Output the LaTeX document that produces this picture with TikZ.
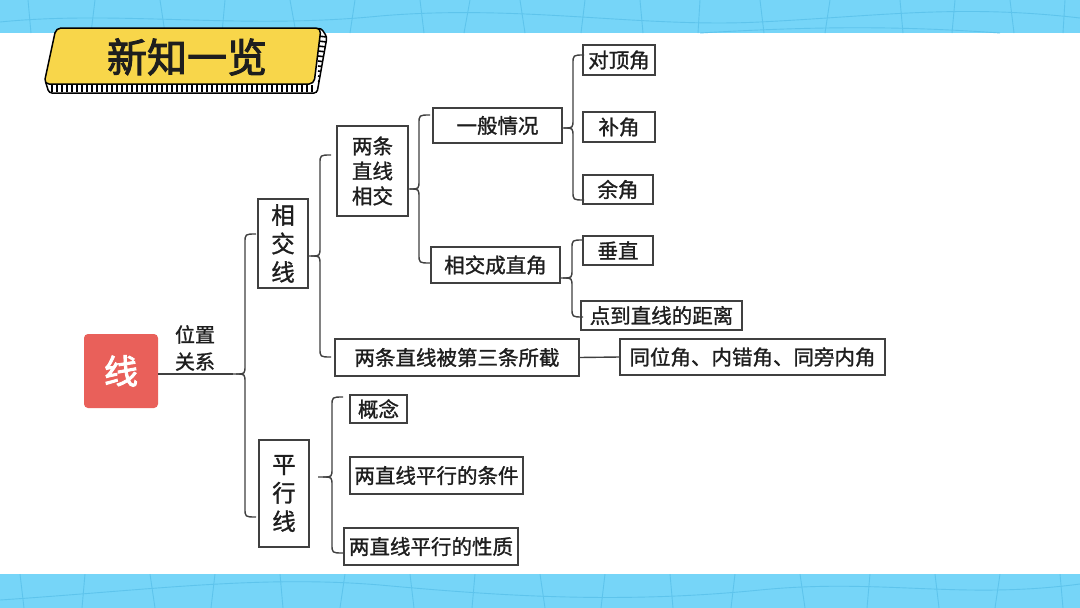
\documentclass[tikz,border=0pt]{standalone}
\usepackage{fontspec}
\newfontfamily\cjk{Noto Sans CJK SC}[FakeBold=1.2]
\newfontfamily\cjkb{Noto Sans CJK SC}[FakeBold=2.5]
\definecolor{band}{HTML}{76D5F8}
\definecolor{bandline}{HTML}{5EC4EC}
\definecolor{ttl}{HTML}{F8D64A}
\definecolor{redbox}{HTML}{E9605A}
\definecolor{ink}{HTML}{1E1E1E}
\tikzset{
  box/.style={draw=ink!85, line width=1.1pt, fill=white, inner sep=0pt, text=ink,
    font=\cjk\fontsize{20.5}{25}\selectfont, align=center},
  vbox/.style={box, font=\cjk\fontsize{23.5}{28.5}\selectfont},
  conn/.style={draw=ink!85, line width=1.4pt},
  grid/.style={draw=bandline, line width=0.9pt}
}
\newcommand\bx[7][box]{\node[#1, minimum width={#5-#3}, minimum height={#6-#4}] (#2) at ({(#3+#5)/2},{(#4+#6)/2}) {#7};}
% xb ytop ybot ytip (tipcoord) r
\newcommand\brk[6]{%
  \draw[conn] ({#1+#6+2},#2) .. controls (#1,#2) .. (#1,{#2+#6}) -- (#1,{#4-#6}) .. controls (#1,#4) .. ({#1-#6},#4) -- #5;
  \draw[conn] ({#1-#6},#4) .. controls (#1,#4) .. (#1,{#4+#6}) -- (#1,{#3-#6}) .. controls (#1,#3) .. ({#1+#6+2},#3);}
\begin{document}
\begin{tikzpicture}[x=1pt,y=-1pt]
\useasboundingbox (0,0) rectangle (1080,608);
\fill[white] (0,0) rectangle (1080,608);
% top band
\fill[band] (0,0) rectangle (1080,33);
\begin{scope}
\clip (0,0) rectangle (1080,33);
\foreach \x/\d in {28/3,95/-4,160/5,225/-3,290/6,355/-5,420/4,470/-6,520/5,585/-4,640/3,700/-2,760/4,830/-5,900/3,955/-3,1010/4,1065/-2}
  \draw[grid] (\x,0) -- ({\x+\d},33);
\draw[grid] (0,22) .. controls (120,10) and (240,30) .. (380,16) .. controls (520,4) and (640,28) .. (760,22) .. controls (880,16) and (960,4) .. (1080,18);
\draw[grid] (700,33) .. controls (820,26) and (900,26) .. (1000,33);
\end{scope}
% bottom band
\fill[band] (0,574) rectangle (1080,608);
\begin{scope}
\clip (0,574) rectangle (1080,608);
\foreach \x/\d in {20/4,85/-3,150/5,215/-4,280/3,345/-5,410/4,475/-3,540/5,605/-4,670/3,735/-4,800/5,870/-3,935/4,1000/-5,1060/3}
  \draw[grid] (\x,574) -- ({\x+\d},608);
\draw[grid] (0,600) .. controls (150,590) and (260,575) .. (380,585) .. controls (500,596) and (620,604) .. (760,590) .. controls (880,578) and (960,600) .. (1080,584);
\end{scope}
% title
\filldraw[fill=white, draw=black, line width=1.5pt, rounded corners=3pt] (45,80) -- (49,93) -- (317,93) -- (327,37) -- (321,28) -- cycle;
\begin{scope}
\clip (45,80) -- (49,93) -- (317,93) -- (327,37) -- (321,28) -- cycle;
\foreach \x in {52,57,...,314} \draw[black, line width=1.6pt] (\x,85) -- (\x,92);
\foreach \y in {36,41,...,86} \draw[black, line width=1.6pt] (318,\y) -- (327,{\y+1});
\end{scope}
\filldraw[fill=ttl, draw=black, line width=1.5pt, rounded corners=5pt] (56,28) -- (321,28) -- (314,84) -- (44,84) -- cycle;
\node[font=\cjkb\fontsize{40}{40}\selectfont, text=ink, inner sep=0pt] (title) at (187,57) {新知一览};
% root
\node[fill=redbox, rounded corners=4pt, minimum width=74pt, minimum height=74pt, inner sep=0pt,
  text=white, font=\cjkb\fontsize{34}{34}\selectfont] (root) at (121,371) {线};
\node[font=\cjk\fontsize{20}{27}\selectfont, text=ink, align=center, inner sep=0pt] (rel) at (195,348) {位置\\关系};
% level 1
\bx[vbox]{xjx}{258}{199}{308}{288}{相\\交\\线}
\bx[vbox]{pxx}{259}{440}{309}{547}{平\\行\\线}
% level 2
\bx[box]{lzxj}{337}{126}{408}{216}{两条\\直线\\相交}
\bx{jie}{335}{339}{579}{376}{两条直线被第三条所截}
\bx{tw}{620}{339}{885}{375}{同位角、内错角、同旁内角}
% level 3
\bx{ybqk}{433}{108}{562}{143}{一般情况}
\bx{xjzj}{431}{247}{560}{283}{相交成直角}
\bx{dd}{583}{45}{655}{75}{对顶角}
\bx{bj}{583}{112}{655}{142}{补角}
\bx{yj}{583}{175}{653}{204}{余角}
\bx{cz}{583}{236}{653}{265}{垂直}
\bx{jl}{581}{301}{742}{330}{点到直线的距离}
\bx{gn}{350}{395}{407}{423}{概念}
\bx{tj}{350}{457}{523}{494}{两直线平行的条件}
\bx{xz}{344}{528}{518}{565}{两直线平行的性质}
% connectors
\coordinate (rtip) at (233,374);
\coordinate (ptip) at (318,477);
\draw[conn] (root.east |- rtip) -- (rtip);
\brk{245}{234}{517}{374}{(rtip)}{9}
\brk{320}{155}{357}{256}{(xjx.east |- 0,256)}{9}
\brk{419}{115}{263}{189}{(lzxj.east |- 0,189)}{9}
\brk{573}{55}{200}{128}{(ybqk.east |- 0,128)}{9}
\brk{572}{240}{317}{278}{(xjzj.east |- 0,278)}{9}
\brk{332}{397}{553}{477}{(ptip)}{9}
\draw[conn] (jie.east) -- (tw.west);
\end{tikzpicture}
\end{document}
